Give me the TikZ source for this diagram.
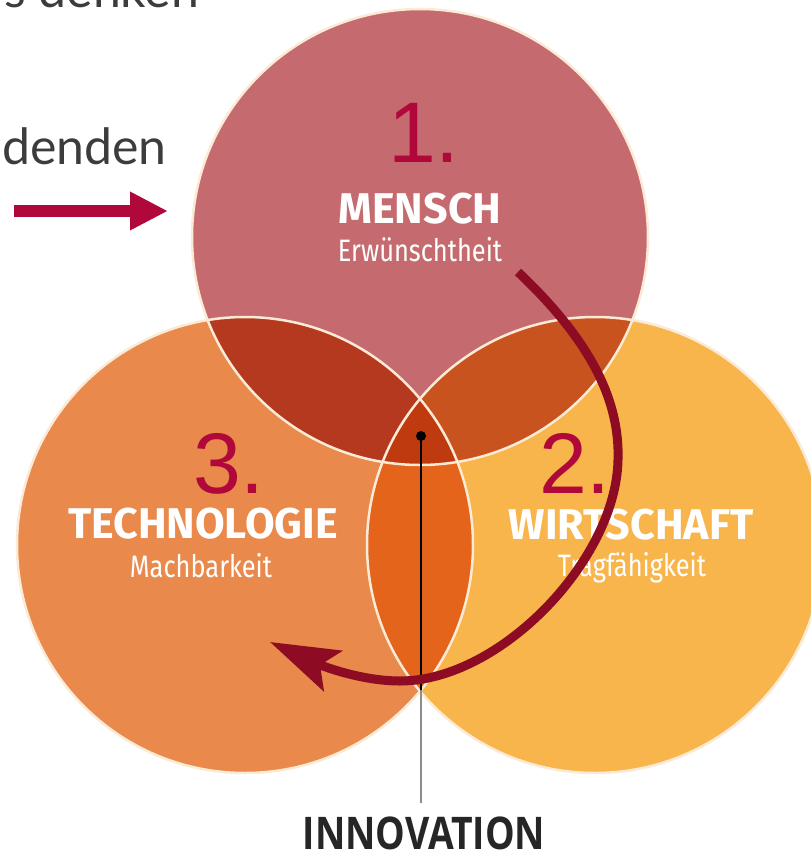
\documentclass[tikz,border=0pt]{standalone}
\usepackage{fontspec}
\usetikzlibrary{arrows.meta}

\newfontfamily\slidefont{Lato}
\newfontfamily\circlefont{Fira Sans}
\newfontfamily\subfont{Fira Sans}[FakeStretch=0.82]
\newfontfamily\numberfont{Liberation Sans}
\newfontfamily\innofont{Open Sans}[FakeStretch=0.83]

\definecolor{mensch}{HTML}{C56B6F}
\definecolor{technik}{HTML}{E9894B}
\definecolor{wirtschaft}{HTML}{F8B54B}
\definecolor{mtlens}{HTML}{B5391F}
\definecolor{mwlens}{HTML}{C8531E}
\definecolor{twlens}{HTML}{E3641A}
\definecolor{core}{HTML}{C03A10}
\definecolor{rim}{HTML}{FBEBD6}
\definecolor{crimson}{HTML}{B0083A}
\definecolor{wine}{HTML}{8E0B24}
\definecolor{slidegray}{HTML}{3C3C3C}

\begin{document}
\begin{tikzpicture}[x=1pt, y=-1pt,
        title/.style={text=white, anchor=base, inner sep=0pt,
            font=\circlefont\bfseries\fontsize{43}{43}\selectfont},
        subtitle/.style={text=white, anchor=base, inner sep=0pt,
            font=\subfont\fontsize{31}{31}\selectfont},
        step number/.style={text=crimson, anchor=base, inner sep=0pt,
            font=\numberfont\fontsize{86}{86}\selectfont},
        slide text/.style={text=slidegray, anchor=base west, inner sep=0pt,
            font=\slidefont\fontsize{50}{50}\selectfont},
        inarrow/.style={draw=crimson, line width=12pt,
            -{Triangle[length=38pt, width=36pt]}},
        turnarrow/.style={draw=wine, line width=9pt,
            -{Stealth[length=69pt, width=44pt, inset=14pt]}}]
    \useasboundingbox (0,0) rectangle (811,855);

    \coordinate (m) at (420,237);
    \coordinate (t) at (245,545);
    \coordinate (w) at (595,545);

    % circles and their overlaps
    \fill[mensch]     (m) circle (228);
    \fill[technik]    (t) circle (228);
    \fill[wirtschaft] (w) circle (228);
    \begin{scope}
        \clip (m) circle (228);
        \fill[mtlens] (t) circle (228);
        \fill[mwlens] (w) circle (228);
    \end{scope}
    \begin{scope}
        \clip (t) circle (228);
        \fill[twlens] (w) circle (228);
    \end{scope}
    \begin{scope}
        \clip (m) circle (228);
        \clip (t) circle (228);
        \fill[core] (w) circle (228);
    \end{scope}
    \draw[rim, line width=2.5pt] (m) circle (228);
    \draw[rim, line width=2.5pt] (t) circle (228);
    \draw[rim, line width=2.5pt] (w) circle (228);

    % slide text
    \node[slide text] (denken) at (4,7)   {s denken};
    \node[slide text] (denden) at (2,164) {denden};

    \coordinate (in0) at (14,211);
    \coordinate (in1) at (168,211);
    \draw[inarrow] (in0) -- (in1);

    % labels
    \node[title]    (mensch)    at (420,223) {MENSCH};
    \node[subtitle] (menschsub) at (420,261) {Erwünschtheit};
    \node[title]    (tech)      at (203,538) {TECHNOLOGIE};
    \node[subtitle] (techsub)   at (201,577) {Machbarkeit};
    \node[title]    (wirt)      at (631,539) {WIRTSCHAFT};
    \node[subtitle] (wirtsub)   at (632,576) {Tragfähigkeit};

    \node[step number] (one)   at (424,162) {1.};
    \node[step number] (two)   at (575,493) {2.};
    \node[step number] (three) at (229,493) {3.};

    % innovation pointer
    \node[circle, fill=black, inner sep=0pt, minimum size=10pt] (dot) at (421,436) {};
    \node[anchor=base, inner sep=0pt, text=black!85,
        font=\innofont\bfseries\fontsize{45}{45}\selectfont] (inno) at (424,849) {INNOVATION};
    \coordinate (touch) at (421,690);
    \coordinate (foot)  at (421,803);
    \draw[black, line width=1.3pt] (dot.center) -- (touch);
    \draw[black!45, line width=1.8pt] (touch) -- (foot);

    % 1. -> 2. -> 3.
    \coordinate (c0) at (518,272);
    \coordinate (c1) at (618,460);
    \coordinate (c2) at (400,681);
    \coordinate (c3) at (270,642);
    \draw[turnarrow] (c0) .. controls (590,340) and (620,400) .. (c1)
        .. controls (616,560) and (500,681) .. (c2)
        .. controls (360,681) and (320,665) .. (c3);
\end{tikzpicture}
\end{document}
